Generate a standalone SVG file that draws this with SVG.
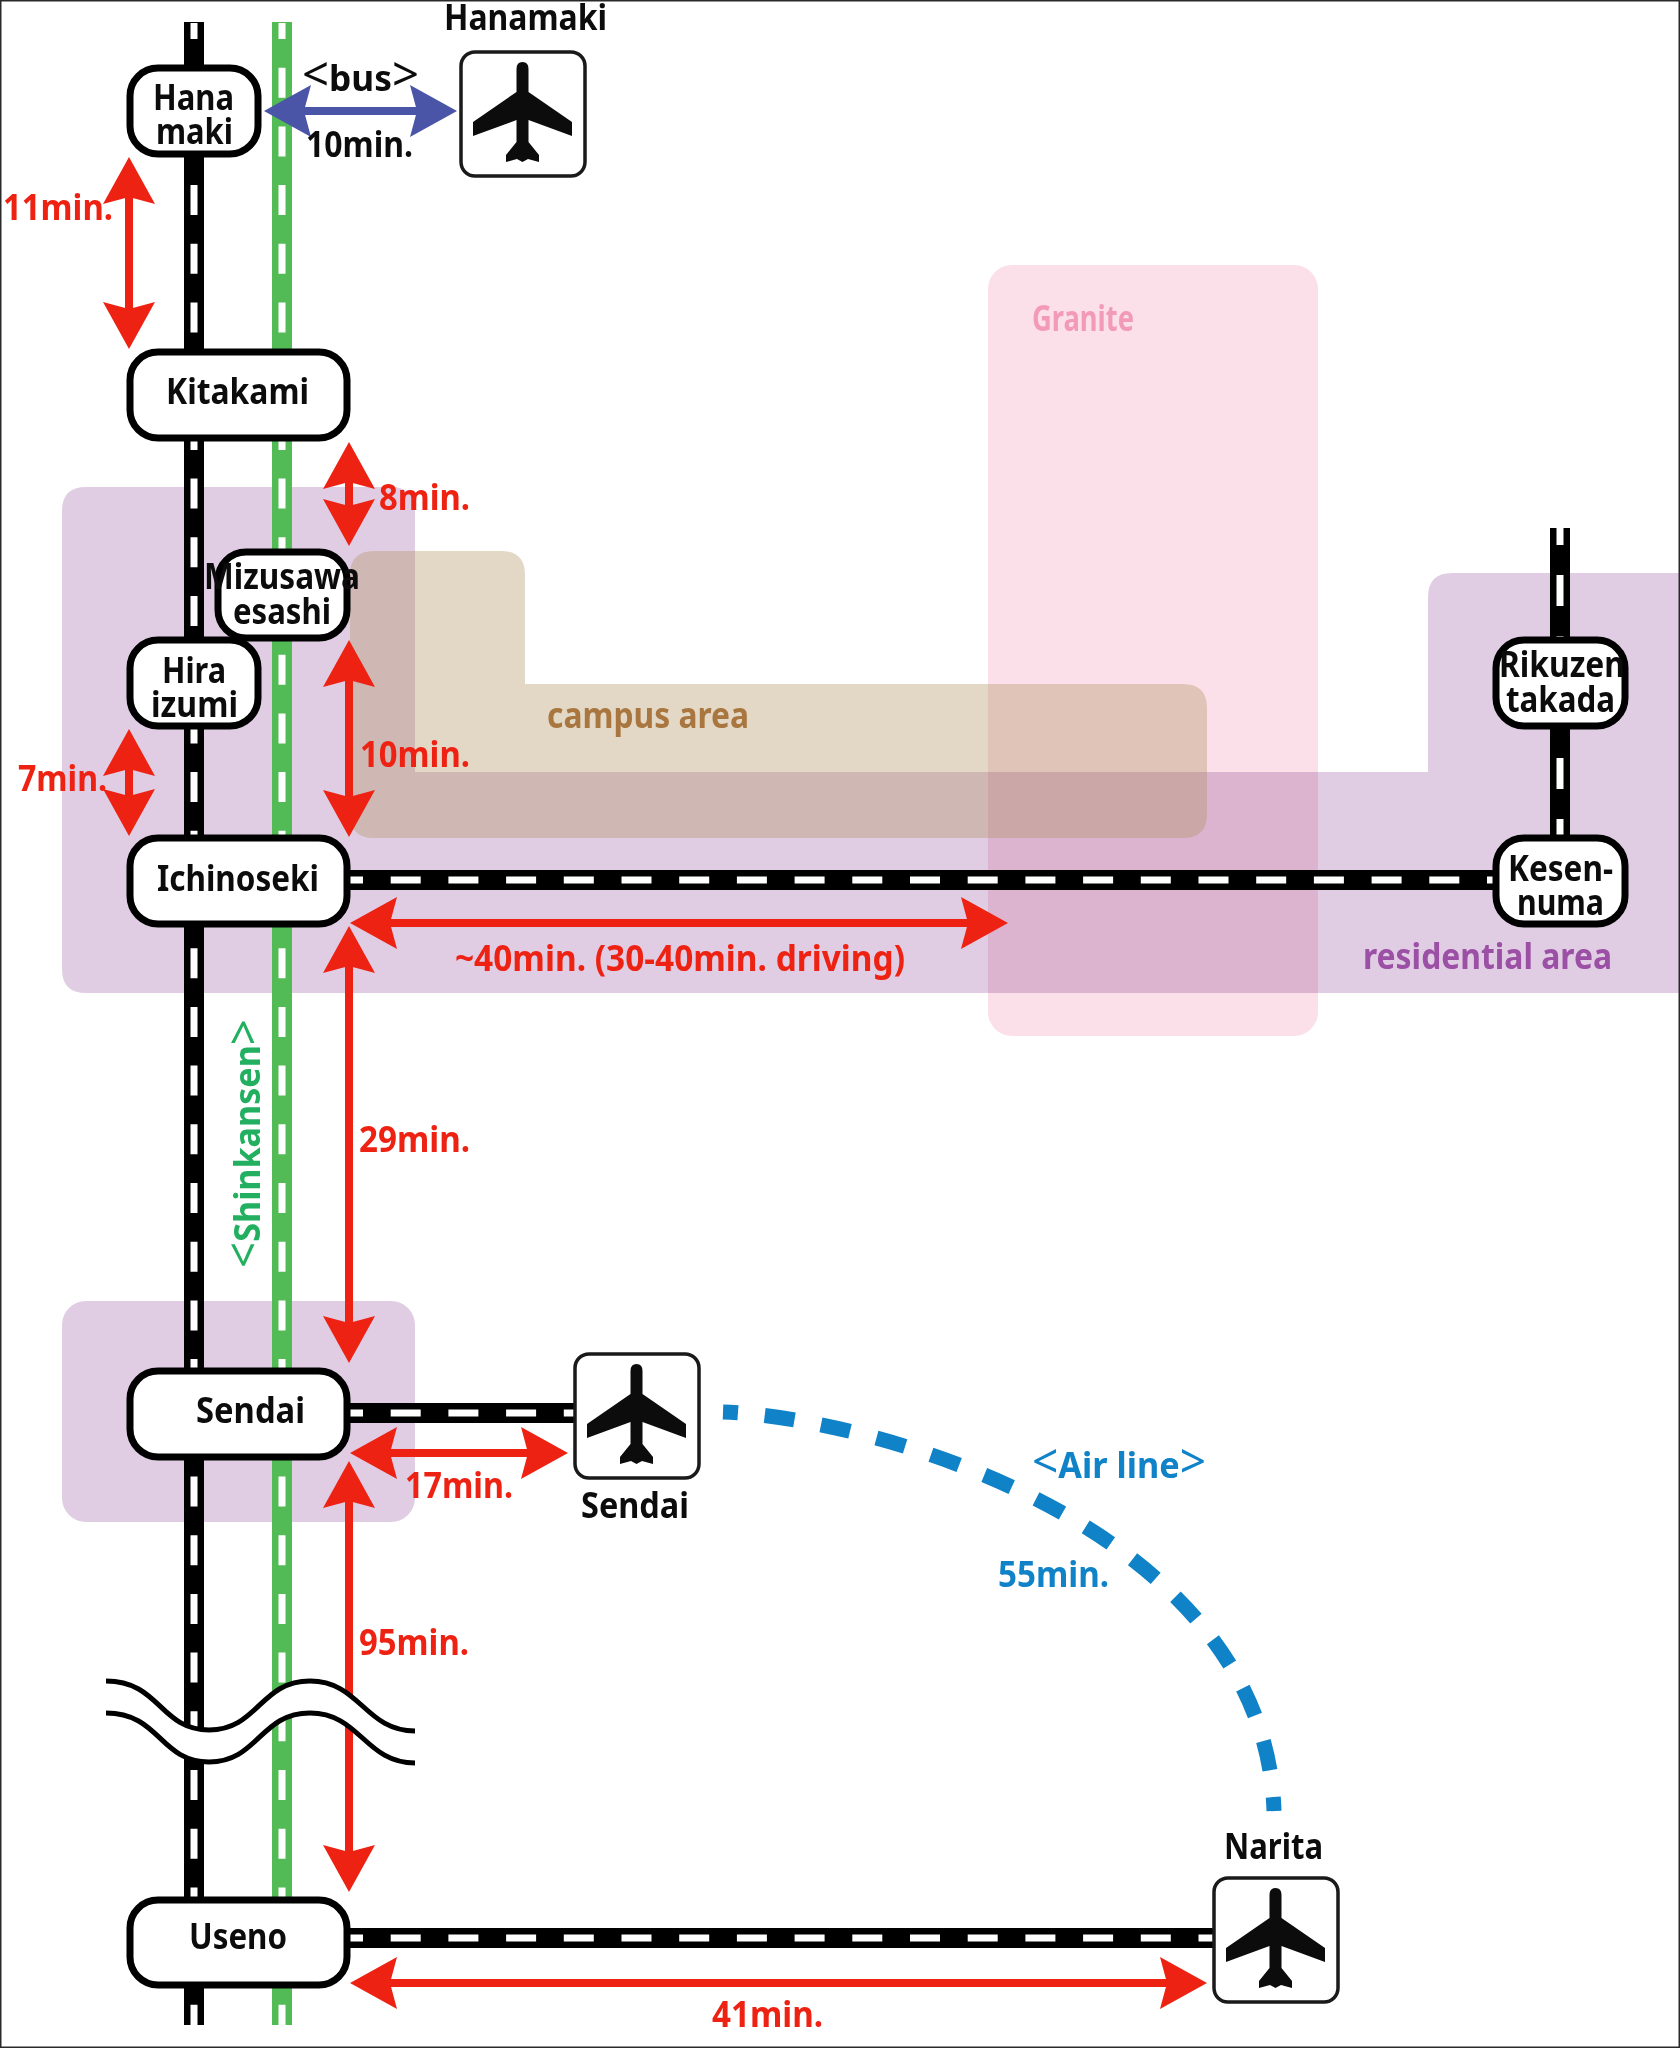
<svg xmlns="http://www.w3.org/2000/svg" width="1680" height="2048" viewBox="0 0 1680 2048">
<style>
text{font-family:"Noto Sans","Open Sans","Liberation Sans",sans-serif;font-weight:700;font-size:35px;fill:#0c0c0c}
.zone{mix-blend-mode:multiply}
.red{fill:#ee2213}.blue{fill:#0f82c8}
.arr{stroke:#ee2213;stroke-width:8;fill:none;marker-start:url(#hr);marker-end:url(#hr)}
.bus{stroke:#4a55a8;stroke-width:8;fill:none;marker-start:url(#hb);marker-end:url(#hb)}
.rail{stroke:#000;stroke-width:20;fill:none}
.gr{stroke:#52bb55;stroke-width:20;fill:none}
.dash{stroke:#fff;stroke-width:7;fill:none;stroke-dasharray:30 28.7}
.hd{stroke:#fff;stroke-width:7;fill:none;stroke-dasharray:30 27.7}
.st{fill:#fff;stroke:#000;stroke-width:7}
.ap{fill:#fff;stroke:#1a1a1a;stroke-width:3.5}
.b{font-size:47px;font-weight:400}
</style>
<defs>
<marker id="hr" markerUnits="userSpaceOnUse" orient="auto-start-reverse" markerWidth="60" markerHeight="60" refX="17" refY="30" viewBox="0 0 60 60"><path d="M10 4L57 30L10 56L17 30Z" fill="#ee2213"/></marker>
<marker id="hb" markerUnits="userSpaceOnUse" orient="auto-start-reverse" markerWidth="60" markerHeight="60" refX="17" refY="30" viewBox="0 0 60 60"><path d="M10 4L57 30L10 56L17 30Z" fill="#4a55a8"/></marker>
<g id="plane"><rect class="ap" x="1" y="1" width="124" height="124" rx="14"/><path fill="#0c0c0c" d="M62.5 11q6 0 6 7V41L112 71V85L68.5 69V91L79 104V111L68 108L62.5 111L57 108L46 111V104L56.5 91V69L13 85V71L56.5 41V18q0-7 6-7Z"/></g>
</defs>
<rect width="1680" height="2048" fill="#fff"/>
<g id="zones">
<path class="zone" fill="#e0cde3" d="M86 487H391Q415 487 415 511V772H1428V597Q1428 573 1452 573H1680V993H86Q62 993 62 969V511Q62 487 86 487Z"/>
<rect class="zone" fill="#e0cde3" x="62" y="1301" width="353" height="221" rx="24"/>
<rect class="zone" fill="#fbe0ea" x="988" y="265" width="330" height="771" rx="24"/>
<path fill="#af905c" fill-opacity="0.35" d="M374 551H501Q525 551 525 575V684H1183Q1207 684 1207 708V814Q1207 838 1183 838H374Q350 838 350 814V575Q350 551 374 551Z"/>
</g>
<g id="connectors">
<path class="rail" d="M194 22V2025"/><path class="dash" stroke-dashoffset="14" d="M194 23V2025"/>
<path class="gr" d="M282 22V2025"/><path class="dash" stroke-dashoffset="14" d="M282 23V2025"/>
<path class="rail" d="M1560 528V840"/><path class="dash" style="stroke-dasharray:31 30" stroke-dashoffset="14" d="M1560 528V840"/>
<path class="rail" d="M345 880H1500"/><path class="hd" stroke-dashoffset="17" d="M350 880H1500"/>
<path class="rail" d="M345 1413H580"/><path class="hd" stroke-dashoffset="17" d="M350 1413H580"/>
<path class="rail" d="M345 1938H1220"/><path class="hd" stroke-dashoffset="17" d="M350 1938H1220"/>
<path d="M723 1412C880 1418 1265 1530 1274 1811" fill="none" stroke="#0f82c8" stroke-width="15" stroke-dasharray="30 27" stroke-dashoffset="15"/>
<path class="arr" d="M349 1501V1852"/>
<path id="break" fill="#fff" d="M106 1681C160 1681 160 1730 209 1730S260 1681 310 1681S365 1731 415 1731V1763C365 1763 360 1713 310 1713S260 1762 209 1762S160 1713 106 1713Z"/>
<path d="M106 1681C160 1681 160 1730 209 1730S260 1681 310 1681S365 1731 415 1731M106 1713C160 1713 160 1762 209 1762S260 1713 310 1713S365 1763 415 1763" fill="none" stroke="#000" stroke-width="5"/>
</g>
<g id="airport-hanamaki"><use href="#plane" x="460" y="51"/><text x="444" y="30" textLength="163" lengthAdjust="spacingAndGlyphs">Hanamaki</text></g>
<g id="airport-sendai"><use href="#plane" x="574" y="1353"/><text x="581" y="1518" textLength="108" lengthAdjust="spacingAndGlyphs">Sendai</text></g>
<g id="airport-narita"><use href="#plane" x="1213" y="1877"/><text x="1224" y="1859" textLength="99" lengthAdjust="spacingAndGlyphs">Narita</text></g>
<g id="st-hanamaki"><rect class="st" x="130" y="68" width="128" height="86" rx="28"/><text x="153" y="110" textLength="81" lengthAdjust="spacingAndGlyphs">Hana</text><text x="156" y="144" textLength="77" lengthAdjust="spacingAndGlyphs">maki</text></g>
<g id="st-kitakami"><rect class="st" x="130" y="352" width="217" height="86" rx="28"/><text x="166" y="404" textLength="143" lengthAdjust="spacingAndGlyphs">Kitakami</text></g>
<g id="st-mizusawa"><rect class="st" x="218" y="552" width="129" height="86" rx="28"/><text x="204" y="589" textLength="156" lengthAdjust="spacingAndGlyphs">Mizusawa</text><text x="233" y="624" textLength="98" lengthAdjust="spacingAndGlyphs">esashi</text></g>
<g id="st-hiraizumi"><rect class="st" x="130" y="640" width="128" height="86" rx="28"/><text x="162" y="683" textLength="64" lengthAdjust="spacingAndGlyphs">Hira</text><text x="151" y="717" textLength="87" lengthAdjust="spacingAndGlyphs">izumi</text></g>
<g id="st-ichinoseki"><rect class="st" x="130" y="838" width="217" height="86" rx="28"/><text x="157" y="891" textLength="162" lengthAdjust="spacingAndGlyphs">Ichinoseki</text></g>
<g id="st-sendai"><rect class="st" x="130" y="1371" width="217" height="86" rx="28"/><text x="196" y="1423" textLength="109" lengthAdjust="spacingAndGlyphs">Sendai</text></g>
<g id="st-useno"><rect class="st" x="130" y="1900" width="217" height="85" rx="28"/><text x="189" y="1949" textLength="98" lengthAdjust="spacingAndGlyphs">Useno</text></g>
<g id="st-rikuzen"><rect class="st" x="1496" y="640" width="129" height="86" rx="28"/><text x="1499" y="677" textLength="126" lengthAdjust="spacingAndGlyphs">Rikuzen</text><text x="1506" y="712" textLength="109" lengthAdjust="spacingAndGlyphs">takada</text></g>
<g id="st-kesennuma"><rect class="st" x="1496" y="838" width="129" height="86" rx="28"/><text x="1508" y="881" textLength="105" lengthAdjust="spacingAndGlyphs">Kesen-</text><text x="1517" y="915" textLength="87" lengthAdjust="spacingAndGlyphs">numa</text></g>
<g id="arrows">
<path class="arr" d="M129 197V309"/>
<path class="arr" d="M349 482V506"/>
<path class="arr" d="M349 680V797"/>
<path class="arr" d="M129 769V796"/>
<path class="arr" d="M390 923H968"/>
<path class="arr" d="M349 966V1323"/>
<path class="arr" d="M390 1453H528"/>
<path class="arr" d="M390 1983H1167"/>
<path class="bus" d="M304 111H417"/>
</g>
<g id="labels">
<text x="302" y="91" textLength="117" lengthAdjust="spacingAndGlyphs"><tspan class="b">&lt;</tspan>bus<tspan class="b">&gt;</tspan></text>
<text x="306" y="157" textLength="107" lengthAdjust="spacingAndGlyphs">10min.</text>
<text class="red" x="3" y="220" textLength="110" lengthAdjust="spacingAndGlyphs">11min.</text>
<text class="red" x="379" y="510" textLength="91" lengthAdjust="spacingAndGlyphs">8min.</text>
<text class="red" x="360" y="767" textLength="110" lengthAdjust="spacingAndGlyphs">10min.</text>
<text class="red" x="18" y="791" textLength="89" lengthAdjust="spacingAndGlyphs">7min.</text>
<text class="red" x="455" y="971" textLength="450" lengthAdjust="spacingAndGlyphs">~40min. (30-40min. driving)</text>
<text class="red" x="359" y="1152" textLength="111" lengthAdjust="spacingAndGlyphs">29min.</text>
<text class="red" x="405" y="1498" textLength="108" lengthAdjust="spacingAndGlyphs">17min.</text>
<text class="red" x="359" y="1655" textLength="110" lengthAdjust="spacingAndGlyphs">95min.</text>
<text class="red" x="712" y="2027" textLength="111" lengthAdjust="spacingAndGlyphs">41min.</text>
<text style="fill:#a8763e" x="547" y="728" textLength="202" lengthAdjust="spacingAndGlyphs">campus area</text>
<text style="fill:#9b4fa5" x="1363" y="969" textLength="249" lengthAdjust="spacingAndGlyphs">residential area</text>
<text style="fill:#f29ab8" x="1032" y="331" textLength="102" lengthAdjust="spacingAndGlyphs">Granite</text>
<text style="fill:#22b060" transform="translate(260 1268) rotate(-90)" textLength="249" lengthAdjust="spacingAndGlyphs"><tspan class="b">&lt;</tspan>Shinkansen<tspan class="b">&gt;</tspan></text>
<text class="blue" x="1032" y="1478" textLength="174" lengthAdjust="spacingAndGlyphs"><tspan class="b">&lt;</tspan>Air line<tspan class="b">&gt;</tspan></text>
<text class="blue" x="998" y="1587" textLength="111" lengthAdjust="spacingAndGlyphs">55min.</text>
</g>
<rect x="0.5" y="0.5" width="1679" height="2047" fill="none" stroke="#2a2a2a" stroke-width="2"/>
</svg>
